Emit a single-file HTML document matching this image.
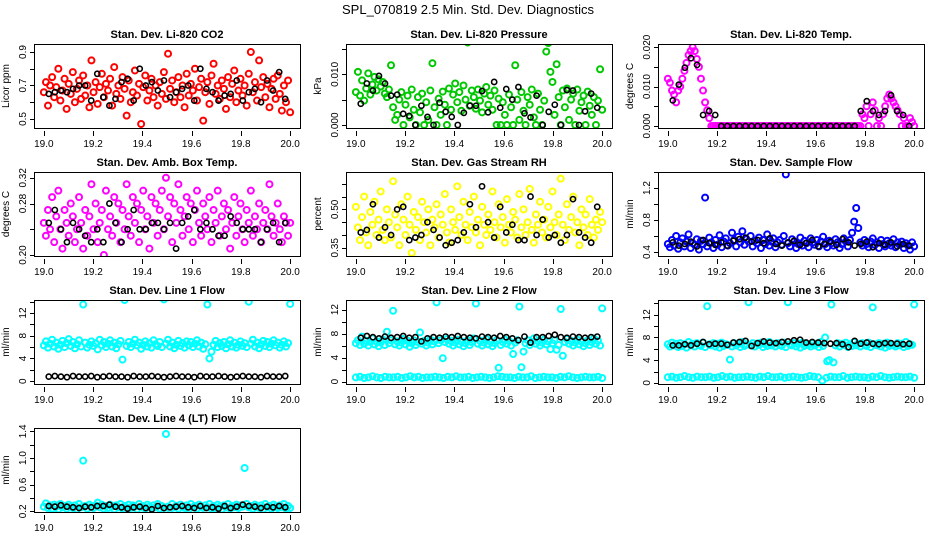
<!DOCTYPE html>
<html><head><meta charset="utf-8"><style>
html,body{margin:0;padding:0;background:#fff}
svg{display:block;font-family:"Liberation Sans",sans-serif}
</style></head><body>
<svg id="c" width="936" height="540" viewBox="0 0 936 540">
<text x="468" y="14" text-anchor="middle" font-size="13">SPL_070819  2.5 Min. Std. Dev. Diagnostics</text>
</svg>
<script>
const co2Vals=[0.66,0.72,0.58,0.70,0.75,0.63,0.69,0.80,0.61,0.67,0.74,0.56,0.71,0.65,0.78,0.60,0.68,0.73,0.62,0.76,0.64,0.70,0.57,0.85,0.66,0.72,0.59,0.69,0.77,0.63,0.71,0.67,0.74,0.58,0.81,0.65,0.70,0.62,0.75,0.68,0.52,0.73,0.60,0.66,0.79,0.64,0.71,0.47,0.69,0.76,0.61,0.67,0.74,0.63,0.70,0.58,0.72,0.65,0.78,0.62,0.89,0.68,0.73,0.60,0.66,0.75,0.63,0.70,0.57,0.77,0.64,0.71,0.67,0.80,0.61,0.69,0.74,0.49,0.66,0.72,0.59,0.76,0.83,0.65,0.70,0.62,0.73,0.68,0.56,0.75,0.63,0.71,0.79,0.60,0.67,0.74,0.64,0.70,0.58,0.77,0.90,0.66,0.72,0.61,0.85,0.69,0.75,0.63,0.71,0.57,0.68,0.74,0.62,0.76,0.65,0.55,0.70,0.60,0.73,0.54];
const co2Avg=[0.65,0.66,0.67,0.66,0.68,0.70,0.70,0.61,0.77,0.63,0.58,0.62,0.72,0.74,0.61,0.80,0.70,0.72,0.67,0.73,0.63,0.66,0.68,0.70,0.61,0.80,0.68,0.66,0.61,0.64,0.65,0.73,0.61,0.66,0.68,0.60,0.73,0.67,0.78,0.62];
const presVals=[0.0065,0.0105,0.0058,0.0088,0.0048,0.0072,0.0102,0.0060,0.0080,0.0095,0.0068,0.0090,0.0076,0.0085,0.0062,0.0055,0.0070,0.0118,0.0035,0.0010,0.0020,0.0050,0.0065,0.0000,0.0040,0.0058,0.0015,0.0070,0.0030,0.0000,0.0055,0.0025,0.0062,0.0000,0.0045,0.0010,0.0068,0.0122,0.0035,0.0000,0.0052,0.0020,0.0066,0.0040,0.0000,0.0072,0.0030,0.0060,0.0082,0.0045,0.0065,0.0028,0.0078,0.0050,0.0163,0.0038,0.0068,0.0055,0.0032,0.0070,0.0048,0.0025,0.0062,0.0075,0.0040,0.0058,0.0030,0.0068,0.0000,0.0052,0.0000,0.0045,0.0020,0.0000,0.0060,0.0035,0.0000,0.0118,0.0050,0.0010,0.0065,0.0028,0.0000,0.0055,0.0040,0.0070,0.0015,0.0000,0.0062,0.0030,0.0000,0.0048,0.0145,0.0162,0.0105,0.0085,0.0020,0.0120,0.0055,0.0000,0.0068,0.0035,0.0072,0.0010,0.0050,0.0062,0.0000,0.0070,0.0028,0.0045,0.0058,0.0000,0.0066,0.0038,0.0020,0.0055,0.0000,0.0048,0.0110,0.0030];
const presAvg=[0.0042,0.0082,0.0068,0.0097,0.0082,0.0058,0.0060,0.0022,0.0018,0.0000,0.0038,0.0016,0.0000,0.0044,0.0026,0.0016,0.0000,0.0024,0.0038,0.0038,0.0067,0.0025,0.0085,0.0034,0.0071,0.0050,0.0075,0.0023,0.0015,0.0058,0.0000,0.0026,0.0040,0.0000,0.0069,0.0068,0.0000,0.0027,0.0062,0.0034];
const tempVals=[0.012,0.011,0.009,0.008,0.006,0.009,0.010,0.012,0.014,0.016,0.018,0.019,0.020,0.019,0.017,0.015,0.012,0.009,0.006,0.004,0.002,0,0,0,0,0,0,0,0,0,0,0,0,0,0,0,0,0,0,0,0,0,0,0,0,0,0,0,0,0,0,0,0,0,0,0,0,0,0,0,0,0,0,0,0,0,0,0,0,0,0,0,0,0,0,0,0,0,0,0,0,0,0,0,0,0,0,0,0,0,0,0,0,0,0.003,0.002,0.005,0.000,0.003,0.006,0.004,0.000,0.002,0.000,0.003,0.005,0.007,0.008,0.007,0.006,0.005,0.004,0.003,0.000,0.002,0.000,0.000,0.002,0.001,0.000];
const tempAvg=[0.0065,0.0105,0.0148,0.0172,0.0155,0.0028,0.0038,0.0028,0,0,0,0,0,0,0,0,0,0,0,0,0,0,0,0,0,0,0,0,0,0,0.0000,0.0038,0.0063,0.0038,0.0028,0.0038,0.0078,0.0038,0.0028,0.0000];
const boxVals=[0.25,0.23,0.27,0.24,0.29,0.22,0.26,0.30,0.24,0.21,0.27,0.25,0.23,0.28,0.26,0.22,0.24,0.29,0.25,0.21,0.27,0.23,0.26,0.31,0.24,0.28,0.22,0.25,0.27,0.20,0.30,0.24,0.26,0.23,0.29,0.25,0.28,0.22,0.27,0.24,0.31,0.26,0.23,0.29,0.25,0.28,0.22,0.27,0.30,0.24,0.26,0.21,0.29,0.25,0.28,0.23,0.27,0.30,0.24,0.32,0.26,0.29,0.22,0.28,0.25,0.31,0.27,0.23,0.26,0.29,0.24,0.28,0.22,0.27,0.30,0.25,0.23,0.28,0.26,0.24,0.29,0.22,0.27,0.25,0.30,0.23,0.26,0.28,0.24,0.27,0.21,0.25,0.29,0.23,0.26,0.28,0.24,0.22,0.27,0.25,0.30,0.23,0.26,0.24,0.28,0.22,0.25,0.27,0.24,0.31,0.26,0.23,0.25,0.28,0.24,0.22,0.26,0.25,0.23,0.25];
const boxAvg=[0.25,0.27,0.24,0.22,0.25,0.24,0.23,0.22,0.24,0.22,0.28,0.25,0.22,0.24,0.27,0.24,0.24,0.25,0.25,0.24,0.25,0.21,0.25,0.26,0.27,0.24,0.25,0.24,0.23,0.23,0.26,0.25,0.24,0.24,0.24,0.22,0.24,0.25,0.22,0.25];
const rhVals=[0.51,0.43,0.38,0.47,0.55,0.41,0.36,0.49,0.44,0.53,0.40,0.46,0.57,0.42,0.38,0.50,0.45,0.39,0.61,0.48,0.43,0.36,0.52,0.46,0.40,0.55,0.44,0.33,0.49,0.42,0.47,0.38,0.53,0.45,0.41,0.50,0.36,0.46,0.43,0.52,0.39,0.48,0.44,0.56,0.41,0.37,0.50,0.45,0.42,0.59,0.47,0.40,0.53,0.44,0.38,0.49,0.43,0.55,0.41,0.46,0.36,0.51,0.44,0.40,0.48,0.42,0.57,0.45,0.39,0.52,0.43,0.47,0.37,0.54,0.44,0.41,0.49,0.46,0.39,0.56,0.43,0.50,0.40,0.45,0.58,0.42,0.37,0.48,0.44,0.53,0.41,0.46,0.39,0.51,0.43,0.57,0.45,0.40,0.48,0.62,0.44,0.38,0.52,0.42,0.47,0.55,0.41,0.45,0.36,0.50,0.43,0.48,0.40,0.54,0.44,0.39,0.46,0.42,0.49,0.45];
const rhAvg=[0.41,0.42,0.52,0.39,0.43,0.40,0.50,0.51,0.38,0.39,0.40,0.45,0.42,0.39,0.36,0.37,0.38,0.41,0.52,0.43,0.59,0.45,0.39,0.51,0.41,0.44,0.38,0.38,0.55,0.40,0.46,0.39,0.40,0.37,0.40,0.54,0.41,0.39,0.37,0.51];
const flowVals=[0.50,0.46,0.55,0.48,0.60,0.44,0.52,0.57,0.47,0.53,0.62,0.45,0.51,0.49,0.56,0.43,0.54,0.50,1.08,0.47,0.58,0.52,0.45,0.55,0.49,0.61,0.46,0.53,0.57,0.48,0.51,0.64,0.55,0.47,0.59,0.52,0.66,0.49,0.56,0.53,0.60,0.47,0.54,0.51,0.58,0.45,0.55,0.50,0.62,0.48,0.53,0.57,0.46,0.52,0.55,0.49,0.60,1.37,0.51,0.47,0.56,0.53,0.45,0.50,0.58,0.48,0.54,0.51,0.46,0.57,0.52,0.49,0.55,0.47,0.53,0.59,0.50,0.46,0.54,0.51,0.48,0.56,0.52,0.45,0.50,0.57,0.53,0.47,0.55,0.64,0.78,0.95,0.70,0.52,0.48,0.55,0.50,0.46,0.53,0.57,0.49,0.52,0.45,0.55,0.50,0.47,0.54,0.51,0.48,0.56,0.46,0.52,0.49,0.53,0.45,0.51,0.48,0.43,0.52,0.47];
const flowAvg=[0.52,0.48,0.50,0.53,0.47,0.55,0.51,0.49,0.52,0.48,0.54,0.56,0.58,0.53,0.55,0.51,0.57,0.50,0.48,0.52,0.54,0.49,0.51,0.55,0.47,0.50,0.53,0.49,0.56,0.52,0.48,0.50,0.53,0.46,0.51,0.49,0.52,0.47,0.50,0.48];
const line1Vals=[6.3,7.0,5.9,6.6,7.3,6.1,6.8,5.7,6.4,7.1,6.0,6.7,7.4,6.2,6.9,5.8,6.5,7.2,6.1,13.5,6.8,5.9,6.4,7.0,6.2,6.7,5.6,7.3,6.3,6.9,6.0,6.6,7.2,6.1,6.8,5.8,6.5,7.1,3.8,14.3,6.2,6.9,6.0,6.6,7.3,6.3,6.8,5.7,6.4,7.0,6.1,6.7,5.9,7.2,6.5,6.2,6.9,6.0,14.4,6.6,7.3,6.1,6.8,5.8,6.4,7.1,6.2,6.7,5.9,7.0,6.3,6.9,6.0,6.6,7.2,6.1,6.8,5.7,6.5,13.5,4.0,5.2,6.4,7.1,6.0,6.7,6.2,6.9,5.8,6.5,7.2,6.1,6.8,5.9,6.4,7.0,6.2,6.7,6.0,14.0,6.6,7.3,6.1,6.8,5.8,6.5,7.1,6.2,6.9,6.0,6.6,7.2,6.3,6.8,5.9,6.4,7.0,6.1,6.7,13.6];
const line1Avg=[0.8,0.9,0.8,0.7,0.9,0.8,0.8,0.9,0.7,0.8,0.9,0.8,0.8,0.7,0.9,0.8,0.8,0.9,0.8,0.7,0.8,0.9,0.8,0.8,0.7,0.9,0.8,0.8,0.9,0.8,0.7,0.8,0.9,0.8,0.8,0.7,0.9,0.8,0.8,0.9];
const line2Vals=[6.4,6.9,6.1,7.5,6.3,6.8,6.0,6.6,7.2,6.2,6.7,5.9,6.5,7.0,6.1,8.3,6.4,6.9,11.8,6.2,6.7,6.0,6.5,7.1,6.2,6.8,5.8,6.4,6.9,6.1,6.6,8.2,6.3,6.8,6.0,6.5,7.0,6.2,6.7,13.2,6.4,6.9,3.9,6.6,7.1,6.3,6.8,6.0,6.5,7.0,6.2,6.7,5.9,6.4,6.9,6.1,6.6,7.2,13.0,6.3,6.8,6.0,6.5,7.1,6.2,6.7,5.9,6.4,6.9,2.3,6.1,6.6,7.0,6.3,6.8,6.0,4.6,6.5,6.9,12.5,2.4,5.0,6.4,6.9,6.1,6.6,7.2,6.3,6.8,6.0,6.5,7.0,6.2,6.7,5.4,6.4,6.9,5.3,6.1,12.1,4.3,6.6,7.1,6.3,6.8,6.0,6.5,7.0,6.2,6.7,5.9,6.4,6.9,6.1,6.6,7.2,6.3,6.8,6.0,12.2];
const line2Low=[0.7,0.8,0.6,0.7,0.9,0.7,0.6,0.8,0.7,0.7,0.8,0.6,0.7,0.9,0.7,0.8,0.6,0.7,0.7,0.8,0.7,0.6,0.8,0.7,0.9,0.7,0.7,0.8,0.6,0.7,0.8,0.7,0.6,0.7,0.9,0.8,0.7,0.7,0.6,0.8,0.7,0.7,0.9,0.6,0.7,0.8,0.7,0.7,0.6,0.8,0.7,0.9,0.7,0.6,0.7,0.8,0.7,0.7,0.8,0.6];
const line2Avg=[7.3,7.6,7.4,7.2,7.5,7.3,7.4,7.6,7.3,7.4,6.7,7.2,7.4,7.3,7.5,7.4,7.6,7.4,7.3,7.2,7.5,7.4,7.3,7.6,7.4,7.2,6.9,7.5,6.5,7.4,7.4,7.6,7.8,7.4,7.3,7.5,7.4,7.3,7.4,7.5];
const line3Vals=[6.8,6.4,7.1,6.6,6.9,6.3,7.0,6.5,6.8,6.2,7.2,6.6,6.9,6.4,7.0,6.7,6.5,7.1,6.3,13.5,6.8,6.6,7.0,6.4,6.9,6.2,7.1,6.5,6.8,6.7,4.1,6.4,7.0,6.6,6.9,6.3,7.2,6.5,6.8,14.2,6.6,7.0,6.4,6.9,6.7,7.1,6.3,6.8,6.5,7.2,6.6,6.9,6.4,7.0,6.7,6.5,7.1,6.3,14.2,6.8,6.6,7.0,6.4,6.9,6.2,7.1,6.5,6.8,6.7,6.4,7.0,6.6,6.9,6.3,7.2,6.5,8.0,3.8,4.0,13.8,3.6,6.6,7.0,6.4,6.9,6.7,7.1,6.3,6.8,6.5,7.2,6.6,6.9,6.4,7.0,6.7,6.5,7.1,6.3,13.3,6.8,6.6,7.0,6.4,6.9,6.2,7.1,6.5,6.8,6.7,6.4,7.0,6.6,6.9,6.3,7.2,6.5,6.8,6.7,13.8];
const line3Low=[1.0,1.1,0.9,1.0,1.2,1.0,0.9,1.1,1.0,1.0,1.1,0.9,1.0,1.2,1.0,1.1,0.9,1.0,1.0,1.1,1.0,0.9,1.1,1.0,1.2,1.0,1.0,1.1,0.9,1.0,1.1,1.0,0.9,1.0,1.2,1.1,1.0,0.4,0.9,1.1,1.0,1.0,1.2,0.9,1.0,1.1,1.0,1.0,0.9,1.1,1.0,1.2,1.0,0.9,1.0,1.1,1.0,1.0,1.1,0.9];
const line3Avg=[6.6,6.6,6.8,6.6,6.9,7.2,6.8,6.9,6.9,6.7,7.1,7.2,7.4,6.5,7.0,7.3,7.1,7.0,7.2,7.3,7.5,7.6,7.1,7.2,7.1,7.0,6.9,7.0,6.8,6.3,7.4,6.9,7.1,6.9,6.8,7.0,7.0,6.9,6.8,6.9];
const line4Vals=[0.27,0.32,0.25,0.29,0.24,0.30,0.27,0.23,0.31,0.26,0.28,0.24,0.30,0.27,0.25,0.29,0.23,0.31,0.26,0.96,0.28,0.24,0.30,0.27,0.25,0.29,0.33,0.26,0.30,0.24,0.28,0.25,0.30,0.27,0.23,0.29,0.26,0.31,0.24,0.28,0.26,0.30,0.25,0.29,0.27,0.23,0.31,0.26,0.28,0.24,0.30,0.27,0.25,0.29,0.26,0.31,0.24,0.28,0.25,1.36,0.27,0.23,0.31,0.26,0.28,0.24,0.30,0.27,0.25,0.29,0.23,0.31,0.26,0.28,0.24,0.30,0.27,0.25,0.29,0.26,0.31,0.24,0.28,0.25,0.30,0.27,0.23,0.29,0.26,0.31,0.24,0.28,0.26,0.30,0.25,0.29,0.27,0.85,0.31,0.26,0.28,0.24,0.30,0.27,0.25,0.29,0.23,0.31,0.26,0.28,0.24,0.30,0.27,0.25,0.29,0.26,0.31,0.24,0.28,0.25];
const line4Avg=[0.28,0.27,0.29,0.27,0.26,0.25,0.27,0.26,0.28,0.28,0.30,0.27,0.26,0.24,0.26,0.27,0.25,0.23,0.28,0.25,0.26,0.27,0.28,0.26,0.25,0.28,0.25,0.26,0.24,0.28,0.25,0.27,0.30,0.28,0.27,0.25,0.27,0.26,0.28,0.26];

const panelTitles=["Stan. Dev. Li-820 CO2","Stan. Dev. Li-820 Pressure","Stan. Dev. Li-820 Temp.","Stan. Dev. Amb. Box Temp.","Stan. Dev. Gas Stream RH","Stan. Dev. Sample Flow","Stan. Dev. Line 1 Flow","Stan. Dev. Line 2 Flow","Stan. Dev. Line 3 Flow","Stan. Dev. Line 4 (LT) Flow"];
const yTitles=["Licor ppm","kPa","degrees C","degrees C","percent","ml/min","ml/min","ml/min","ml/min","ml/min"];
const xTicks=[19.0,19.2,19.4,19.6,19.8,20.0];
const xTickLabels=["19.0","19.2","19.4","19.6","19.8","20.0"];

const panels=[
 {ylim:[0.446,0.948],ticks:[0.5,0.6,0.7,0.8,0.9],labels:{"0.5":"0.5","0.7":"0.7","0.9":"0.9"},series:[[co2Vals,"#ff0000"]],avg:co2Avg},
 {ylim:[-0.0006,0.0160],ticks:[0,0.005,0.010,0.015],labels:{"0":"0.000","0.01":"0.010"},series:[[presVals,"#00c800"]],avg:presAvg},
 {ylim:[-0.0005,0.0208],ticks:[0,0.005,0.010,0.015,0.020],labels:{"0":"0.000","0.01":"0.010","0.02":"0.020"},series:[[tempVals,"#ff00ff"]],avg:tempAvg},
 {ylim:[0.1985,0.329],ticks:[0.20,0.24,0.28,0.32],labels:{"0.2":"0.20","0.28":"0.28","0.32":"0.32"},series:[[boxVals,"#ff00ff"]],avg:boxAvg},
 {ylim:[0.318,0.646],ticks:[0.35,0.40,0.45,0.50,0.55,0.60],labels:{"0.35":"0.35","0.5":"0.50"},series:[[rhVals,"#ffff00"]],avg:rhAvg},
 {ylim:[0.35,1.40],ticks:[0.4,0.6,0.8,1.0,1.2,1.4],labels:{"0.4":"0.4","0.8":"0.8","1.2":"1.2"},series:[[flowVals,"#0000ff"]],avg:flowAvg},
 {ylim:[-0.5,14.3],ticks:[0,2,4,6,8,10,12,14],labels:{"0":"0","4":"4","8":"8","12":"12"},series:[[line1Vals,"#00ffff"]],avg:line1Avg},
 {ylim:[-0.4,13.6],ticks:[0,2,4,6,8,10,12],labels:{"0":"0","4":"4","8":"8","12":"12"},series:[[line2Vals,"#00ffff"],[line2Low,"#00ffff"]],avg:line2Avg},
 {ylim:[-0.2,14.6],ticks:[0,2,4,6,8,10,12,14],labels:{"0":"0","4":"4","8":"8","12":"12"},series:[[line3Vals,"#00ffff"],[line3Low,"#00ffff"]],avg:line3Avg},
 {ylim:[0.19,1.45],ticks:[0.2,0.4,0.6,0.8,1.0,1.2,1.4],labels:{"0.2":"0.2","0.6":"0.6","1":"1.0","1.4":"1.4"},series:[[line4Vals,"#00ffff"]],avg:line4Avg}
];

const NS="http://www.w3.org/2000/svg";
const svg=document.getElementById('c');
function mk(tag,attrs,parent){const e=document.createElementNS(NS,tag);for(const k in attrs)e.setAttribute(k,attrs[k]);(parent||svg).appendChild(e);return e;}
const XLIM=[18.96,20.04];
panels.forEach((p,idx)=>{
  const col=idx%3,row=Math.floor(idx/3);
  const L=34+312*col,R=L+266,T=44+128*row,B=T+84;
  const sx=v=>L+(v-XLIM[0])/(XLIM[1]-XLIM[0])*(R-L);
  const sy=v=>B-(v-p.ylim[0])/(p.ylim[1]-p.ylim[0])*(B-T);
  const px=v=>Math.round(v)+0.5;
  const g=mk('g',{});
  
  
  const t=mk('text',{x:(L+R)/2,y:T-6,'text-anchor':'middle','font-size':11,'font-weight':'bold'},g);
  t.textContent=panelTitles[idx];
  
  
  const yt=mk('text',{x:0,y:0,'text-anchor':'middle','font-size':10,transform:`translate(${L-25},${(T+B)/2}) rotate(-90)`},g);
  yt.textContent=yTitles[idx];
  
  
  const cg=mk('g',{},g);
  
  
  const clip=mk('clipPath',{id:'clip'+idx},g);
  mk('rect',{x:L,y:T,width:R-L,height:B-T},clip);
  cg.setAttribute('clip-path','url(#clip'+idx+')');
  p.series.forEach(([vals,color])=>{
    vals.forEach((v,i)=>{
      const x=19+i/(vals.length-1);
      const c=mk('circle',{cx:sx(x),cy:sy(v),r:3,fill:'none',stroke:color,'stroke-width':2},cg);
      
      
    });
  });
  p.avg.forEach((v,i)=>{
    const x=19+0.02+i*(0.96/(p.avg.length-1));
    const c=mk('circle',{cx:sx(x),cy:sy(v),r:2.6,fill:'none',stroke:'#000','stroke-width':1.6},cg);
    
    
  });
  const box=mk('rect',{x:L+0.5,y:T+0.5,width:R-L,height:B-T,fill:'none',stroke:'#000','stroke-width':1},g);
  
  
  const xa=mk('g',{},g);
  
  
  xTicks.forEach((v,i)=>{
    mk('line',{x1:px(sx(v)),x2:px(sx(v)),y1:B+3,y2:B+8,stroke:'#000'},xa);
    const tl=mk('text',{x:sx(v),y:B+19,'text-anchor':'middle','font-size':10},xa);
    tl.textContent=xTickLabels[i];
    
    
  });
  const ya=mk('g',{},g);
  
  
  p.ticks.forEach(v=>{
    mk('line',{x1:L-4,x2:L,y1:px(sy(v)),y2:px(sy(v)),stroke:'#000'},ya);
    const key=String(+v.toFixed(4));
    if(p.labels[key]!==undefined){
      const tl=mk('text',{x:0,y:0,'text-anchor':'middle','font-size':10,transform:`translate(${L-8},${sy(v)}) rotate(-90)`},ya);
      tl.textContent=p.labels[key];
      
      
    }
  });
});
</script>
</body></html>
